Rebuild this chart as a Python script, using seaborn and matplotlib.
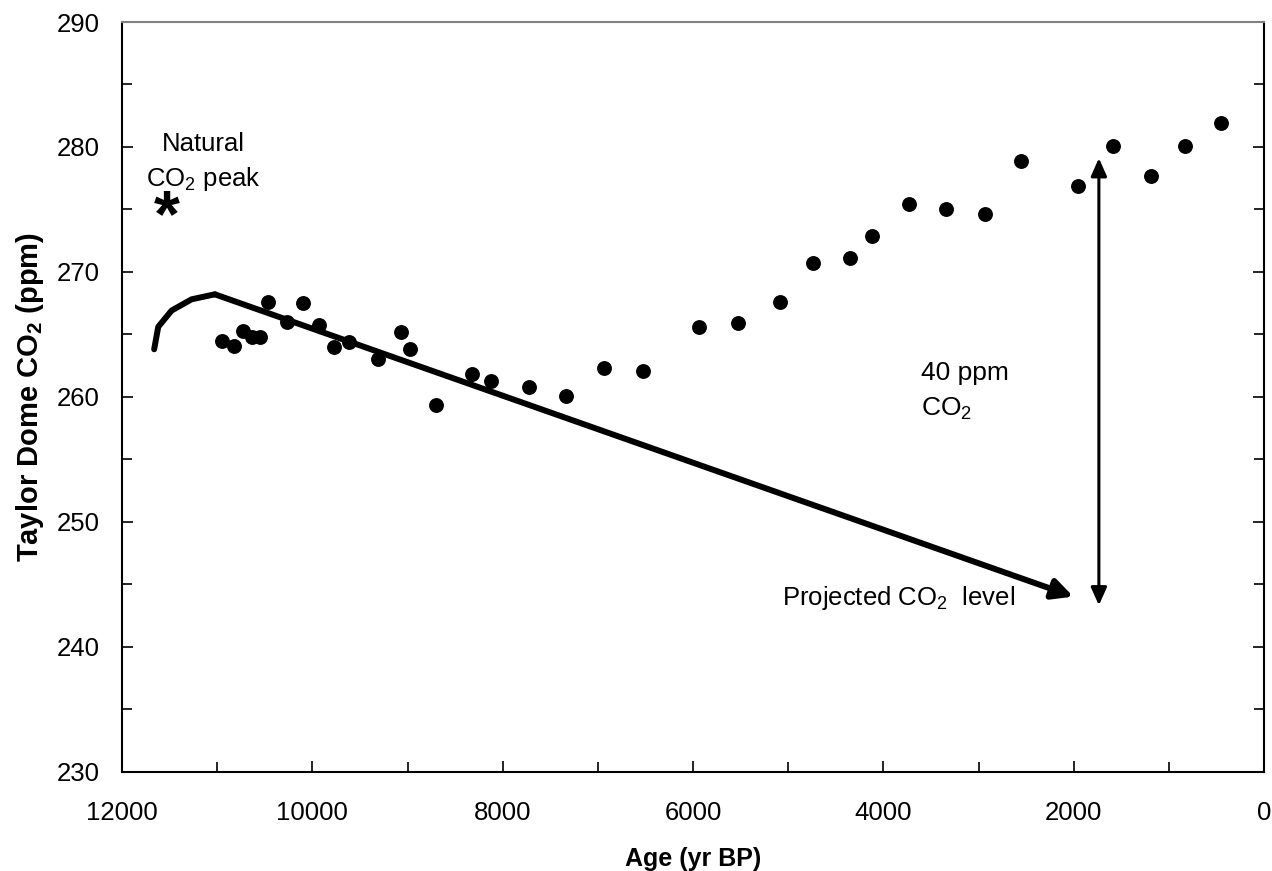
import matplotlib
matplotlib.use("Agg")
import matplotlib.pyplot as plt
import seaborn as sns
import pandas as pd
from matplotlib.ticker import MultipleLocator

# ---- data ----
co2_age = [10954, 10822, 10731, 10633, 10552, 10465, 10262, 10101, 9934, 9776,
           9612, 9307, 9066, 8976, 8699, 8321, 8126, 7724, 7335, 6933,
           6524, 5937, 5531, 5087, 4744, 4346, 4122, 3734, 3346, 2930,
           2556, 1954, 1591, 1192, 825, 447]
co2_ppm = [264.5, 264.1, 265.3, 264.8, 264.8, 267.6, 266.0, 267.5, 265.75, 264.0,
           264.4, 263.0, 265.2, 263.8, 259.3, 261.8, 261.3, 260.8, 260.1, 262.3,
           262.1, 265.6, 265.9, 267.6, 270.7, 271.1, 272.85, 275.4, 275.05, 274.6,
           278.9, 276.9, 280.1, 277.7, 280.1, 281.9]

trend_age = [11662, 11619, 11479, 11269, 11024]
trend_ppm = [263.8, 265.6, 266.9, 267.8, 268.2]
projected_end = (2003, 244.0)

span_age = 1735
span_low, span_high = 243.3, 279.1

x_ticks = [12000, 10000, 8000, 6000, 4000, 2000, 0]
y_ticks = [230, 240, 250, 260, 270, 280, 290]

sns.set_theme(style="ticks")
plt.rcParams['font.family'] = ['Liberation Sans', 'DejaVu Sans']
plt.rcParams['mathtext.fontset'] = 'custom'
plt.rcParams['mathtext.rm'] = 'Liberation Sans'
plt.rcParams['mathtext.it'] = 'Liberation Sans'
plt.rcParams['mathtext.bf'] = 'Liberation Sans:bold'
plt.rcParams['text.color'] = 'black'
plt.rcParams['axes.labelcolor'] = 'black'
plt.rcParams['xtick.color'] = 'black'
plt.rcParams['ytick.color'] = 'black'

fig = plt.figure(figsize=(12.72, 8.71), dpi=100)
ax = fig.add_axes([122/1272, 1-771.5/871, (1264-122)/1272, (771.5-22)/871])

df = pd.DataFrame({"age": co2_age, "ppm": co2_ppm})
sns.scatterplot(data=df, x="age", y="ppm", ax=ax, color="black", s=115,
                edgecolor="black", linewidth=0, zorder=3)

tdf = pd.DataFrame({"age": trend_age, "ppm": trend_ppm})
sns.lineplot(data=tdf, x="age", y="ppm", ax=ax, color="black", lw=4.3,
             sort=False, zorder=2, solid_capstyle="round", solid_joinstyle="round")

ax.annotate("", xy=projected_end, xytext=(trend_age[-1], trend_ppm[-1]),
            arrowprops=dict(arrowstyle="-|>,head_length=1.0,head_width=0.5",
                            lw=4.3, color="black", shrinkA=0, shrinkB=0,
                            capstyle="round"), zorder=2)
ax.annotate("", xy=(span_age, span_low), xytext=(span_age, span_high),
            arrowprops=dict(arrowstyle="<|-|>,head_length=0.9,head_width=0.4",
                            lw=2.2, color="black", shrinkA=0, shrinkB=0))

ax.set_xlim(12000, 0)
ax.set_ylim(230, 290)
ax.set_xticks(x_ticks)
ax.set_yticks(y_ticks)
ax.xaxis.set_minor_locator(MultipleLocator(1000))
ax.yaxis.set_minor_locator(MultipleLocator(5))
ax.tick_params(axis="both", which="both", direction="in", labelsize=18.5,
               colors="black", width=1.2)
ax.tick_params(axis="x", which="major", length=8, pad=21)
ax.tick_params(axis="x", which="minor", length=7)
ax.tick_params(axis="y", which="major", length=8, pad=16, right=True)
ax.tick_params(axis="y", which="minor", length=7, right=True)

for s in ax.spines.values():
    s.set_color("black")
    s.set_linewidth(1.5)
ax.spines["top"].set_color("#808080")

ax.set_xlabel("Age (yr BP)", fontsize=18, fontweight="bold", labelpad=16)
ax.set_ylabel(r"Taylor Dome CO$_\mathbf{2}$ (ppm)", fontsize=21,
              fontweight="bold", labelpad=8)

ax.text(11149, 280.2, "Natural", fontsize=18.5, ha="center", va="center")
ax.text(11149, 277.45, r"CO$_2$ peak", fontsize=18.5, ha="center", va="center")
ax.text(11531, 274.2, "*", fontsize=48, fontweight="bold", ha="center", va="center")
ax.text(3600, 261.9, "40 ppm", fontsize=19, ha="left", va="center")
ax.text(3600, 259.0, r"CO$_2$", fontsize=19, ha="left", va="center")
ax.text(5070, 243.9, r"Projected CO$_2$  level", fontsize=18.5, ha="left", va="center")

ax.set_facecolor("white")
fig.patch.set_facecolor("white")
fig.savefig("out.png", dpi=100, facecolor="white")
